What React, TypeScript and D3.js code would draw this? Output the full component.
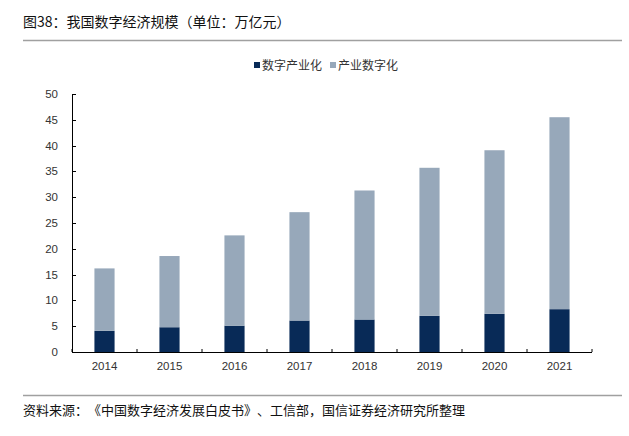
import React from "react";
import * as d3 from "d3";

const years = ["2014", "2015", "2016", "2017", "2018", "2019", "2020", "2021"];
const digitalIndustrialization = [4.1, 4.8, 5.1, 6.1, 6.3, 7.0, 7.4, 8.3];
const industrialDigitization = [12.1, 13.8, 17.5, 21.0, 25.0, 28.7, 31.7, 37.2];
const yTicks = [0, 5, 10, 15, 20, 25, 30, 35, 40, 45, 50];
const seriesNames = ["数字产业化", "产业数字化"];
const colors = ["#082a57", "#97a8ba"];

const W = 629;
const H = 436;
const left = 72;
const right = 592;
const top = 94;
const bottom = 352;

export default function App() {
  const x = d3.scaleBand<string>().domain(years).range([left, right]).paddingInner(0.69).paddingOuter(0.345);
  const y = d3.scaleLinear().domain([0, 50]).range([bottom, top]);
  const data = years.map((yr, i) => ({ yr, a: digitalIndustrialization[i], b: industrialDigitization[i] }));
  const stack = d3.stack<any>().keys(["a", "b"])(data);
  const band = (right - left) / years.length;
  const font = "'Liberation Sans', Arial, sans-serif";
  const cjk = "'Noto Sans CJK SC', sans-serif";
  const noTrim: any = { textSpacingTrim: "space-all" };

  return (
    <svg width={W} height={H} style={{ position: "absolute", left: 0, top: 0, background: "#fff" }}>
      <text x={23} y={27} fontSize={14} fontFamily={cjk} fill="#111" style={noTrim}>图38：我国数字经济规模（单位：万亿元）</text>
      <line x1={23} x2={622} y1={40.5} y2={40.5} stroke="#a0a0a0" strokeWidth={1.5} />

      {/* legend */}
      <rect x={254} y={62} width={6} height={6} fill={colors[0]} />
      <text x={262} y={69.5} fontSize={12} fontFamily={cjk} fill="#333">{seriesNames[0]}</text>
      <rect x={330} y={62} width={6} height={6} fill={colors[1]} />
      <text x={338} y={69.5} fontSize={12} fontFamily={cjk} fill="#333">{seriesNames[1]}</text>

      {/* bars */}
      {stack.map((s, si) =>
        s.map((d, i) => (
          <rect key={si + "-" + i} x={x(years[i])} width={x.bandwidth()} y={y(d[1])} height={y(d[0]) - y(d[1])} fill={colors[si]} />
        ))
      )}

      {/* y axis */}
      <line x1={left + 0.5} x2={left + 0.5} y1={top} y2={bottom} stroke="#000" strokeWidth={1} />
      {yTicks.map((t) => (
        <g key={t}>
          <line x1={left} x2={left + 4} y1={Math.round(y(t)) + 0.5} y2={Math.round(y(t)) + 0.5} stroke="#000" />
          <text x={58} y={y(t) + 4} fontSize={11.5} textAnchor="end" fontFamily={font} fill="#333">{t}</text>
        </g>
      ))}

      {/* x axis */}
      <line x1={left} x2={right} y1={bottom + 0.5} y2={bottom + 0.5} stroke="#000" strokeWidth={1.2} />
      {d3.range(years.length + 1).map((i) => (
        <line key={i} x1={left + i * band} x2={left + i * band} y1={bottom} y2={bottom - 3} stroke="#000" />
      ))}
      {years.map((yr) => (
        <text key={yr} x={x(yr)! + x.bandwidth() / 2} y={370} fontSize={11.5} textAnchor="middle" fontFamily={font} fill="#333">{yr}</text>
      ))}

      <line x1={23} x2={622} y1={395.5} y2={395.5} stroke="#a0a0a0" strokeWidth={1.5} />
      <text x={23} y={415} fontSize={13} fontFamily={cjk} fill="#111" style={noTrim}>资料来源：《中国数字经济发展白皮书》、工信部，国信证券经济研究所整理</text>
    </svg>
  );
}
